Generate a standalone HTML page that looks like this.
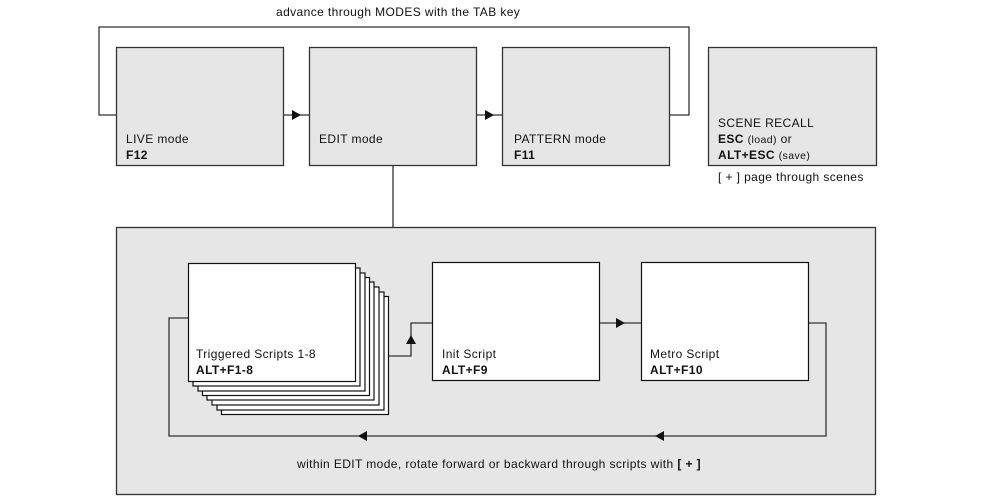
<!DOCTYPE html>
<html><head><meta charset="utf-8"><style>
html,body{margin:0;padding:0;background:#fff;}
svg{display:block;}
text{font-family:"Liberation Sans",sans-serif;font-size:12px;letter-spacing:0.4px;fill:#111;}
.b{font-weight:bold;}
</style></head><body>
<svg width="1000" height="503" viewBox="0 0 1000 503">
<g stroke="#333" stroke-width="1.3" fill="none">
<polyline points="116,115 99,115 99,27 689,27 689,115 670,115"/>
<line x1="284" y1="115" x2="309" y2="115"/>
<line x1="477" y1="115" x2="502" y2="115"/>
<line x1="393" y1="165" x2="393" y2="227"/>
</g>
<g fill="#e6e6e6" stroke="#333" stroke-width="1.3">
<rect x="116.5" y="47.5" width="167" height="118"/>
<rect x="309.5" y="47.5" width="167" height="118"/>
<rect x="502.5" y="47.5" width="167" height="118"/>
<rect x="708.5" y="47.5" width="168" height="118"/>
<rect x="116.5" y="227.5" width="759" height="267"/>
</g>
<g fill="#111">
<polygon points="292,110 301,115 292,120"/>
<polygon points="485,110 494,115 485,120"/>
</g>
<text x="276" y="16">advance through MODES with the TAB key</text>
<text x="126" y="143">LIVE mode</text><text x="126" y="159" class="b">F12</text>
<text x="319" y="143">EDIT mode</text>
<text x="514" y="143">PATTERN mode</text><text x="514" y="159" class="b">F11</text>
<text x="718" y="127">SCENE RECALL</text>
<text x="718" y="143"><tspan class="b">ESC</tspan> <tspan font-size="10.5">(load)</tspan> or</text>
<text x="718" y="159"><tspan class="b">ALT+ESC</tspan> <tspan font-size="10.5">(save)</tspan></text>
<text x="718" y="181">[ + ]  page through scenes</text>
<g stroke="#333" stroke-width="1.3" fill="none">
<polyline points="188,318 169,318 169,436 826,436 826,323 809,323"/>
<polyline points="389,356 411,356 411,323 432,323"/>
<line x1="600" y1="323" x2="641" y2="323"/>
</g>
<g fill="#fff" stroke="#111" stroke-width="1.2">
<rect x="221.5" y="296.5" width="167" height="118"/>
<rect x="217" y="292" width="167" height="118"/>
<rect x="212" y="287" width="167" height="118"/>
<rect x="207" y="282" width="167" height="118"/>
<rect x="202.5" y="277.5" width="167" height="118"/>
<rect x="198" y="273" width="167" height="118"/>
<rect x="193" y="268" width="167" height="118"/>
<rect x="188.5" y="263.5" width="167" height="118"/>
<rect x="432.5" y="262.5" width="167" height="118"/>
<rect x="641.5" y="262.5" width="167" height="118"/>
</g>
<g fill="#111">
<polygon points="406,344 411,335 416,344"/>
<polygon points="616,318 625,323 616,328"/>
<polygon points="367,431 358,436 367,441"/>
<polygon points="664,431 655,436 664,441"/>
</g>
<text x="196" y="358">Triggered Scripts 1-8</text><text x="196" y="374" class="b">ALT+F1-8</text>
<text x="442" y="358">Init Script</text><text x="442" y="374" class="b">ALT+F9</text>
<text x="650" y="358">Metro Script</text><text x="650" y="374" class="b">ALT+F10</text>
<text x="297" y="468">within EDIT mode, rotate forward or backward through scripts with <tspan class="b">[ + ]</tspan></text>
</svg>
</body></html>
